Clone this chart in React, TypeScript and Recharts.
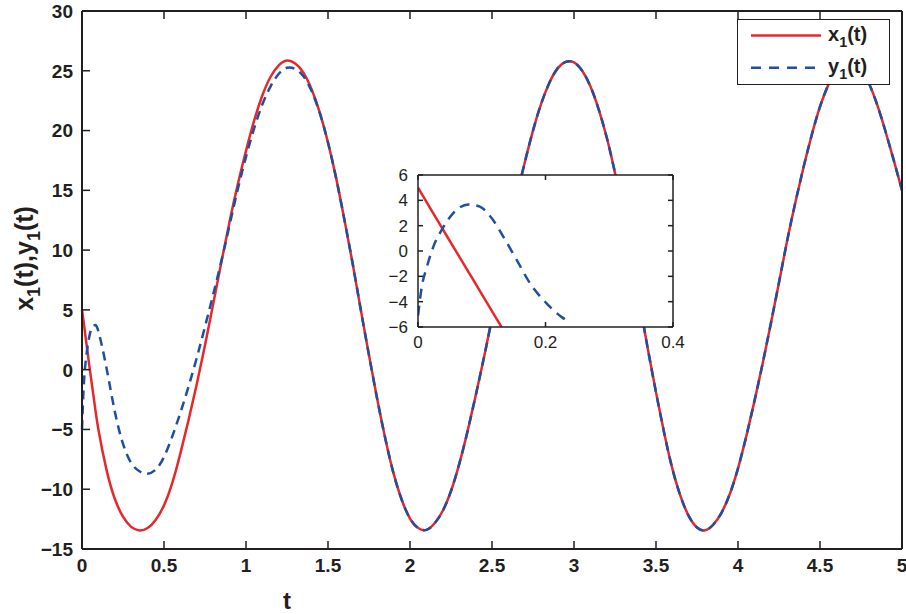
import React from 'react';
import { LineChart, Line, XAxis, YAxis, CartesianGrid, Legend } from 'recharts';

const FONT = '"Liberation Sans", Arial, Helvetica, sans-serif';
const INK = '#231f20';
const RED = '#e5282c';
const BLUE = '#1f4f9e';

// ---- main chart data ----
const tValues = [
  0, 0.01, 0.025, 0.05, 0.075, 0.1, 0.15, 0.2, 0.25, 0.3, 0.35, 0.4, 0.45, 0.5, 0.55, 0.6, 0.65, 0.7, 0.75, 0.8,
  0.85, 0.9, 0.95, 1.0, 1.05, 1.1, 1.15, 1.2, 1.25, 1.3, 1.35, 1.4, 1.45, 1.5, 1.55, 1.6, 1.65, 1.7, 1.75, 1.8,
  1.85, 1.9, 1.95, 2.0, 2.05, 2.1, 2.15, 2.2, 2.25, 2.3, 2.35, 2.4, 2.45, 2.5, 2.55, 2.6, 2.65, 2.7, 2.75, 2.8,
  2.85, 2.9, 2.95, 3.0, 3.05, 3.1, 3.15, 3.2, 3.25, 3.3, 3.35, 3.4, 3.45, 3.5, 3.55, 3.6, 3.65, 3.7, 3.75, 3.8,
  3.85, 3.9, 3.95, 4.0, 4.05, 4.1, 4.15, 4.2, 4.25, 4.3, 4.35, 4.4, 4.45, 4.5, 4.55, 4.6, 4.65, 4.7, 4.75, 4.8,
  4.85, 4.9, 4.95, 5.0,
];
const x1Values = [
  5.0, 4.0, 2.4, -0.2, -2.7, -5.0, -8.4, -10.8, -12.3, -13.15, -13.45, -13.25, -12.55, -11.35, -9.5, -7.0, -4.2, -1.2, 2.05, 5.5,
  9.0, 12.4, 15.5, 18.3, 20.85, 22.95, 24.5, 25.45, 25.85, 25.6, 24.85, 23.45, 21.5, 19.0, 16.0, 12.55, 8.9, 5.0, 1.2, -2.45,
  -5.8, -8.7, -10.9, -12.45, -13.25, -13.4, -12.85, -11.8, -10.15, -7.9, -5.2, -2.2, 0.95, 4.3, 7.8, 11.25, 14.45, 17.35, 20.0, 22.25,
  24.0, 25.2, 25.75, 25.7, 25.0, 23.7, 21.8, 19.4, 16.45, 13.05, 9.4, 5.6, 1.75, -1.9, -5.3, -8.3, -10.6, -12.25, -13.2, -13.43,
  -12.95, -11.95, -10.4, -8.25, -5.6, -2.65, 0.5, 3.85, 7.3, 10.8, 14.0, 16.95, 19.65, 22.0, 23.8, 25.1, 25.7, 25.75, 25.1, 23.9,
  22.1, 19.9, 17.5, 15.0,
];
const y1Values = [
  -5.0, -1.5, 1.0, 3.1, 3.7, 3.2, 0.1, -3.5, -6.2, -7.8, -8.5, -8.7, -8.35, -7.3, -5.6, -3.6, -1.4, 1.0, 3.6, 6.3,
  9.1, 12.1, 15.1, 17.8, 20.2, 22.2, 23.7, 24.75, 25.25, 25.15, 24.55, 23.3, 21.45, 19.0, 16.0, 12.55, 8.9, 5.0, 1.2, -2.45,
  -5.8, -8.7, -10.9, -12.45, -13.25, -13.4, -12.85, -11.8, -10.15, -7.9, -5.2, -2.2, 0.95, 4.3, 7.8, 11.25, 14.45, 17.35, 20.0, 22.25,
  24.0, 25.2, 25.75, 25.7, 25.0, 23.7, 21.8, 19.4, 16.45, 13.05, 9.4, 5.6, 1.75, -1.9, -5.3, -8.3, -10.6, -12.25, -13.2, -13.43,
  -12.95, -11.95, -10.4, -8.25, -5.6, -2.65, 0.5, 3.85, 7.3, 10.8, 14.0, 16.95, 19.65, 22.0, 23.8, 25.1, 25.7, 25.75, 25.1, 23.9,
  22.1, 19.9, 17.5, 15.0,
];
const mainXTicks = [0, 0.5, 1, 1.5, 2, 2.5, 3, 3.5, 4, 4.5, 5];
const mainYTicks = [-15, -10, -5, 0, 5, 10, 15, 20, 25, 30];
const seriesNames = ['x1(t)', 'y1(t)'];

// ---- inset data ----
const insetX1T = [0, 0.02, 0.04, 0.06, 0.08, 0.1, 0.12, 0.131];
const insetX1Values = [5, 3.3, 1.62, -0.05, -1.72, -3.4, -5.08, -6.0];
const insetY1T = [0, 0.006, 0.014, 0.024, 0.037, 0.055, 0.079, 0.097, 0.116, 0.134, 0.155, 0.176, 0.202, 0.225, 0.238];
const insetY1Values = [-5.1, -2.8, -1.25, 0.33, 1.65, 2.97, 3.68, 3.5, 2.57, 1.12, -0.72, -2.57, -4.15, -5.2, -5.6];
const insetXTicks = [0, 0.2, 0.4];
const insetYTicks = [-6, -4, -2, 0, 2, 4, 6];

const mainData = tValues.map((t, i) => ({ t, x1: x1Values[i], y1: y1Values[i] }));
const insetX1Data = insetX1T.map((t, i) => ({ t, v: insetX1Values[i] }));
const insetY1Data = insetY1T.map((t, i) => ({ t, v: insetY1Values[i] }));

const fmt = (v: number) => String(v).replace('-', '\u2212');

function TickBottom(props: any) {
  const { x, y, payload, tlen, tsize, tweight, tgap } = props;
  return (
    <g>
      <line x1={x} x2={x} y1={y} y2={y - tlen} stroke={INK} strokeWidth={1.5} />
      <text x={x} y={y + tgap} textAnchor="middle" fontSize={tsize} fontWeight={tweight} fontFamily={FONT} fill={INK}>
        {fmt(payload.value)}
      </text>
    </g>
  );
}
function TickTop(props: any) {
  const { x, y, tlen } = props;
  return <line x1={x} x2={x} y1={y} y2={y + tlen} stroke={INK} strokeWidth={1.5} />;
}
function TickLeft(props: any) {
  const { x, y, payload, tlen, tsize, tweight, tgap } = props;
  return (
    <g>
      <line x1={x} x2={x + tlen} y1={y} y2={y} stroke={INK} strokeWidth={1.5} />
      <text x={x - tgap} y={y} dy="0.36em" textAnchor="end" fontSize={tsize} fontWeight={tweight} fontFamily={FONT} fill={INK}>
        {fmt(payload.value)}
      </text>
    </g>
  );
}
function TickRight(props: any) {
  const { x, y, tlen } = props;
  return <line x1={x} x2={x - tlen} y1={y} y2={y} stroke={INK} strokeWidth={1.5} />;
}

function SubName({ name, sub }: { name: string; sub: number }) {
  return (
    <>
      {name[0]}
      <tspan dy={sub} fontSize="0.72em">{name[1]}</tspan>
      <tspan dy={-sub}>{name.slice(2)}</tspan>
    </>
  );
}

function XTitle(props: any) {
  const vb = props.viewBox || { x: 82, y: 549, width: 820, height: 30 };
  const cx = vb.x + vb.width * 0.25;
  return (
    <text x={cx} y={vb.y + 60} textAnchor="middle" fontSize={24} fontWeight="bold" fontFamily={FONT} fill={INK}>
      t
    </text>
  );
}
function YTitle(props: any) {
  const vb = props.viewBox || { x: 22, y: 11, width: 60, height: 538 };
  const cx = vb.x + 11;
  const cy = vb.y + vb.height * 0.46;
  return (
    <text x={cx} y={cy} transform={`rotate(-90, ${cx}, ${cy})`} textAnchor="middle" fontSize={25} fontWeight="bold" fontFamily={FONT} fill={INK}>
      <SubName name={seriesNames[0]} sub={7} />
      ,
      <SubName name={seriesNames[1]} sub={7} />
    </text>
  );
}

function LegendBox(props: any) {
  const items = props.payload || [];
  return (
    <div style={{ width: 153, height: 66, boxSizing: 'border-box', border: `1.5px solid ${INK}`, background: '#fff' }}>
      <svg width={150} height={63} style={{ display: 'block' }}>
        {items.map((it: any, i: number) => (
          <g key={i}>
            <line
              x1={13}
              x2={83}
              y1={15.5 + 32.3 * i}
              y2={15.5 + 32.3 * i}
              stroke={it.color}
              strokeWidth={2.5}
              strokeDasharray={it.payload && it.payload.strokeDasharray ? '10 8' : undefined}
            />
            <text x={90} y={21 + 32.3 * i} fontSize={20} fontWeight="bold" fontFamily={FONT} fill={INK}>
              <SubName name={String(it.value)} sub={6} />
            </text>
          </g>
        ))}
      </svg>
    </div>
  );
}

export default function App() {
  return (
    <div style={{ position: 'absolute', left: 0, top: 0, width: 906, height: 614, background: '#fff' }}>
      <div style={{ position: 'absolute', left: 0, top: 0 }}>
        <LineChart width={906} height={614} data={mainData} margin={{ top: 10, right: 3, bottom: 35, left: 22 }}>
          <XAxis
            dataKey="t"
            type="number"
            domain={[0, 5]}
            ticks={mainXTicks}
            height={30}
            tickSize={0}
            tickMargin={0}
            tickLine={false}
            axisLine={{ stroke: INK, strokeWidth: 2 }}
            tick={<TickBottom tlen={8} tsize={19} tweight="bold" tgap={23} />}
            interval={0}
            label={<XTitle />}
          />
          <XAxis
            xAxisId="top"
            orientation="top"
            dataKey="t"
            type="number"
            domain={[0, 5]}
            ticks={mainXTicks}
            height={1}
            tickSize={0}
            tickMargin={0}
            tickLine={false}
            axisLine={{ stroke: INK, strokeWidth: 2 }}
            tick={<TickTop tlen={8} />}
            interval={0}
          />
          <YAxis
            type="number"
            domain={[-15, 30]}
            ticks={mainYTicks}
            width={60}
            tickSize={0}
            tickMargin={0}
            tickLine={false}
            axisLine={{ stroke: INK, strokeWidth: 2 }}
            tick={<TickLeft tlen={8} tsize={19} tweight="bold" tgap={9} />}
            interval={0}
            label={<YTitle />}
          />
          <YAxis
            yAxisId="right"
            orientation="right"
            type="number"
            domain={[-15, 30]}
            ticks={mainYTicks}
            width={1}
            tickSize={0}
            tickMargin={0}
            tickLine={false}
            axisLine={{ stroke: INK, strokeWidth: 2 }}
            tick={<TickRight tlen={8} />}
            interval={0}
          />
          <Line
            name={seriesNames[0]}
            dataKey="x1"
            type="natural"
            stroke={RED}
            strokeWidth={2.5}
            dot={false}
            activeDot={false}
            isAnimationActive={false}
          />
          <Line
            name={seriesNames[1]}
            dataKey="y1"
            type="natural"
            stroke={BLUE}
            strokeWidth={2.5}
            strokeDasharray="9 6"
            dot={false}
            activeDot={false}
            isAnimationActive={false}
          />
          <Legend
            verticalAlign="middle"
            align="center"
            layout="horizontal"
            wrapperStyle={{ left: 737, top: 19, width: 153, height: 66 }}
            content={<LegendBox />}
          />
        </LineChart>
      </div>
      <div style={{ position: 'absolute', left: 340, top: 160 }}>
        <LineChart width={360} height={200} margin={{ top: 14, right: 26, bottom: 8, left: 38 }}>
          <CartesianGrid fill="#fff" horizontal={false} vertical={false} />
          <XAxis
            dataKey="t"
            type="number"
            domain={[0, 0.4]}
            ticks={insetXTicks}
            height={25}
            tickSize={0}
            tickMargin={0}
            tickLine={false}
            axisLine={{ stroke: INK, strokeWidth: 1.5 }}
            tick={<TickBottom tlen={5} tsize={17} tweight="normal" tgap={21} />}
            interval={0}
            allowDataOverflow
          />
          <XAxis
            xAxisId="top"
            orientation="top"
            dataKey="t"
            type="number"
            domain={[0, 0.4]}
            ticks={insetXTicks}
            height={1}
            tickSize={0}
            tickMargin={0}
            tickLine={false}
            axisLine={{ stroke: INK, strokeWidth: 1.5 }}
            tick={<TickTop tlen={5} />}
            interval={0}
            allowDataOverflow
          />
          <YAxis
            type="number"
            domain={[-6, 6]}
            ticks={insetYTicks}
            width={40}
            tickSize={0}
            tickMargin={0}
            tickLine={false}
            axisLine={{ stroke: INK, strokeWidth: 1.5 }}
            tick={<TickLeft tlen={5} tsize={17} tweight="normal" tgap={10} />}
            interval={0}
            allowDataOverflow
          />
          <YAxis
            yAxisId="right"
            orientation="right"
            type="number"
            domain={[-6, 6]}
            ticks={insetYTicks}
            width={1}
            tickSize={0}
            tickMargin={0}
            tickLine={false}
            axisLine={{ stroke: INK, strokeWidth: 1.5 }}
            tick={<TickRight tlen={5} />}
            interval={0}
            allowDataOverflow
          />
          <Line
            data={insetX1Data}
            name={seriesNames[0]}
            dataKey="v"
            type="natural"
            stroke={RED}
            strokeWidth={2.5}
            dot={false}
            activeDot={false}
            isAnimationActive={false}
          />
          <Line
            data={insetY1Data}
            name={seriesNames[1]}
            dataKey="v"
            type="monotone"
            stroke={BLUE}
            strokeWidth={2.5}
            strokeDasharray="10 7"
            dot={false}
            activeDot={false}
            isAnimationActive={false}
          />
        </LineChart>
      </div>
    </div>
  );
}
